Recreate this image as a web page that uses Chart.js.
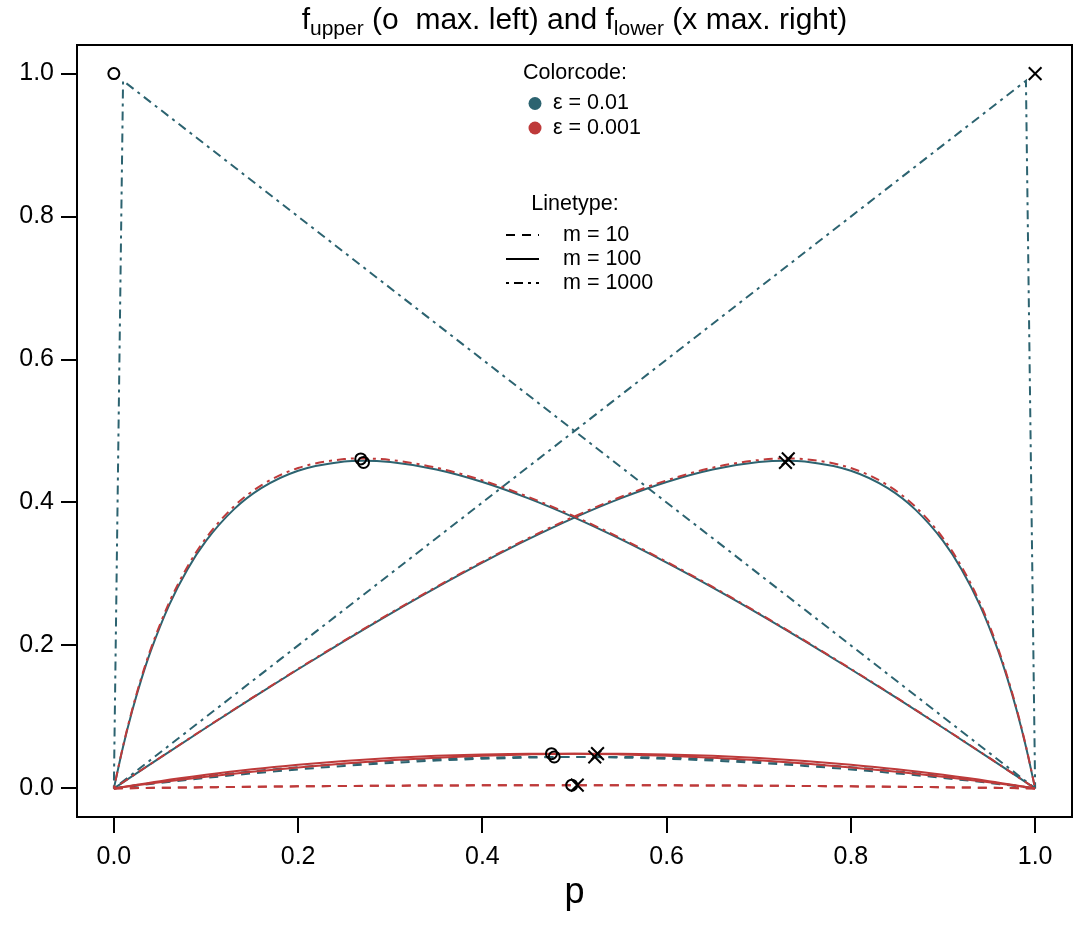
<!DOCTYPE html>
<html>
<head>
<meta charset="utf-8">
<script src="https://cdn.jsdelivr.net/npm/chart.js@4"></script>
<style>
html,body{margin:0;padding:0;background:#ffffff;}
#wrap{width:1080px;height:925px;}
</style>
</head>
<body>
<div id="wrap"><canvas id="c" width="1080" height="925"></canvas></div>
<script>
// ---------- data ----------
const xTickVals = [0, 0.2, 0.4, 0.6, 0.8, 1.0];
const xTickLabels = ['0.0', '0.2', '0.4', '0.6', '0.8', '1.0'];
const yTickVals = [0, 0.2, 0.4, 0.6, 0.8, 1.0];
const yTickLabels = ['0.0', '0.2', '0.4', '0.6', '0.8', '1.0'];

// m*eps = 1 curves (eps=0.01,m=100 solid teal ; eps=0.001,m=1000 dot-dash red)
const pUpperK1 = [0,0.01,0.02,0.03,0.04,0.06,0.08,0.1,0.13,0.16,0.2,0.25,0.27,0.3,0.35,0.4,0.45,0.5,0.55,0.6,0.65,0.7,0.75,0.8,0.85,0.9,0.95,0.98,1];
const pLowerK1 = [0,0.02,0.05,0.1,0.15,0.2,0.25,0.3,0.35,0.4,0.45,0.5,0.55,0.6,0.65,0.7,0.73,0.75,0.8,0.84,0.87,0.9,0.92,0.94,0.96,0.97,0.98,0.99,1];
const upperTealM100 = [0,0.0582,0.1089,0.1532,0.192,0.2564,0.3067,0.3462,0.39,0.42,0.4444,0.4573,0.4584,0.4565,0.4461,0.4286,0.4057,0.3788,0.3486,0.3158,0.2809,0.2442,0.206,0.1667,0.1262,0.0849,0.0428,0.0172,0];
const lowerTealM100 = [0,0.0172,0.0428,0.0849,0.1262,0.1667,0.206,0.2442,0.2809,0.3158,0.3486,0.3788,0.4057,0.4286,0.4461,0.4565,0.4584,0.4573,0.4444,0.42,0.39,0.3462,0.3067,0.2564,0.192,0.1532,0.1089,0.0582,0];
const upperRedM1000 = [0,0.0593,0.1107,0.1556,0.1949,0.2599,0.3105,0.3502,0.3941,0.424,0.4482,0.4607,0.4616,0.4595,0.4487,0.4309,0.4077,0.3805,0.3501,0.317,0.2819,0.245,0.2067,0.1672,0.1266,0.0851,0.0429,0.0172,0];
const lowerRedM1000 = [0,0.0172,0.0429,0.0851,0.1266,0.1672,0.2067,0.245,0.2819,0.317,0.3501,0.3805,0.4077,0.4309,0.4487,0.4595,0.4616,0.4607,0.4482,0.424,0.3941,0.3502,0.3105,0.2599,0.1949,0.1556,0.1107,0.0593,0];

// m*eps = 10 curve (eps=0.01, m=1000, dot-dash teal)
const pUpperK10 = [0, 0.01, 1];
const upperTealM1000 = [0, 0.99, 0];
const pLowerK10 = [0, 0.99, 1];
const lowerTealM1000 = [0, 0.99, 0];

// small curves (m*eps = 0.1 and 0.01)
const pGrid = [0,0.05,0.1,0.15,0.2,0.25,0.3,0.35,0.4,0.45,0.5,0.55,0.6,0.65,0.7,0.75,0.8,0.85,0.9,0.95,1];
const upperRedM100 = [0,0.0102,0.019,0.0267,0.0331,0.0384,0.0425,0.0456,0.0476,0.0486,0.0486,0.0476,0.0457,0.0429,0.0393,0.0347,0.0293,0.0232,0.0162,0.0085,0];
const lowerRedM100 = [0,0.0085,0.0162,0.0232,0.0293,0.0347,0.0393,0.0429,0.0457,0.0476,0.0486,0.0486,0.0476,0.0456,0.0425,0.0384,0.0331,0.0267,0.019,0.0102,0];
const upperTealM10 = [0,0.0091,0.0171,0.0239,0.0297,0.0345,0.0383,0.0411,0.0429,0.0439,0.0439,0.0431,0.0414,0.0389,0.0356,0.0315,0.0266,0.021,0.0147,0.0077,0];
const lowerTealM10 = [0,0.0077,0.0147,0.021,0.0266,0.0315,0.0356,0.0389,0.0414,0.0431,0.0439,0.0439,0.0429,0.0411,0.0383,0.0345,0.0297,0.0239,0.0171,0.0091,0];
const upperRedM10 = [0,0.00086,0.00162,0.0023,0.00288,0.00338,0.00378,0.0041,0.00432,0.00446,0.0045,0.00445,0.0043,0.00408,0.00376,0.00335,0.00286,0.00228,0.0016,0.00085,0];
const lowerRedM10 = [0,0.00085,0.0016,0.00228,0.00286,0.00335,0.00376,0.00408,0.0043,0.00445,0.0045,0.00446,0.00432,0.0041,0.00378,0.00338,0.00288,0.0023,0.00162,0.00086,0];

// maxima markers
const maxUpperP = [0, 0.268, 0.271, 0.475, 0.478, 0.497];
const maxUpperF = [1.0, 0.461, 0.456, 0.0486, 0.044, 0.0045];
const maxLowerP = [1, 0.732, 0.729, 0.525, 0.522, 0.503];
const maxLowerF = [1.0, 0.461, 0.456, 0.0486, 0.044, 0.0045];

// legend text
const colorLegendTitle = 'Colorcode:';
const colorLegendLabels = ['\u03B5 = 0.01', '\u03B5 = 0.001'];
const lineLegendTitle = 'Linetype:';
const lineLegendLabels = ['m = 10', 'm = 100', 'm = 1000'];
const xAxisTitle = 'p';

// ---------- styles ----------
const TEAL = '#2C6370';
const RED = '#BE3A3A';
const DASHED = [9, 7];
const SOLID = [];
const DOTDASH = [3, 5, 9, 5];
const FONT = '"Liberation Sans", Arial, Helvetica, sans-serif';

function pts(xs, ys) { return xs.map((x, i) => ({ x: x, y: ys[i] })); }

function lineDs(label, xs, ys, color, dash, order, straight) {
  return {
    label: label, type: 'line', data: pts(xs, ys),
    borderColor: color, backgroundColor: color, borderWidth: 2,
    borderDash: dash, borderCapStyle: 'butt',
    pointRadius: 0, pointHoverRadius: 0, fill: false,
    showLine: true, order: order,
    tension: 0,
    cubicInterpolationMode: straight ? 'default' : 'monotone'
  };
}

const datasets = [
  { label: 'max upper', type: 'scatter', data: pts(maxUpperP, maxUpperF), pointStyle: 'circle',
    pointRadius: 5.5, borderColor: '#000', backgroundColor: 'rgba(0,0,0,0)', borderWidth: 2, order: 0 },
  { label: 'max lower', type: 'scatter', data: pts(maxLowerP, maxLowerF), pointStyle: 'crossRot',
    pointRadius: 9, borderColor: '#000', backgroundColor: '#000', borderWidth: 2, order: 0 },
  lineDs('upper eps=0.001 m=10', pGrid, upperRedM10, RED, DASHED, 1),
  lineDs('lower eps=0.001 m=10', pGrid, lowerRedM10, RED, DASHED, 1),
  lineDs('upper eps=0.001 m=100', pGrid, upperRedM100, RED, SOLID, 1),
  lineDs('lower eps=0.001 m=100', pGrid, lowerRedM100, RED, SOLID, 1),
  lineDs('upper eps=0.001 m=1000', pUpperK1, upperRedM1000, RED, DOTDASH, 1),
  lineDs('lower eps=0.001 m=1000', pLowerK1, lowerRedM1000, RED, DOTDASH, 1),
  lineDs('upper eps=0.01 m=10', pGrid, upperTealM10, TEAL, DASHED, 2),
  lineDs('lower eps=0.01 m=10', pGrid, lowerTealM10, TEAL, DASHED, 2),
  lineDs('upper eps=0.01 m=100', pUpperK1, upperTealM100, TEAL, SOLID, 2),
  lineDs('lower eps=0.01 m=100', pLowerK1, lowerTealM100, TEAL, SOLID, 2),
  lineDs('upper eps=0.01 m=1000', pUpperK10, upperTealM1000, TEAL, DOTDASH, 2, true),
  lineDs('lower eps=0.01 m=1000', pLowerK10, lowerTealM1000, TEAL, DOTDASH, 2, true)
];

// ---------- custom drawing: box, title, legend, axis label ----------
const decorPlugin = {
  id: 'decor',
  afterDraw(chart) {
    const ctx = chart.ctx;
    const ca = chart.chartArea;
    ctx.save();
    // plot box
    ctx.strokeStyle = '#000';
    ctx.lineWidth = 2;
    ctx.setLineDash([]);
    ctx.strokeRect(ca.left, ca.top, ca.right - ca.left, ca.bottom - ca.top);

    // title with subscripts
    const mainSize = 30, subSize = 21;
    const segs = [
      ['f', false], ['upper', true], [' (o  max. left) and f', false], ['lower', true], [' (x max. right)', false]
    ];
    let total = 0;
    segs.forEach(s => {
      ctx.font = (s[1] ? subSize : mainSize) + 'px ' + FONT;
      s.w = ctx.measureText(s[0]).width;
      total += s.w;
    });
    let tx = (ca.left + ca.right) / 2 - total / 2;
    ctx.fillStyle = '#000';
    ctx.textAlign = 'left';
    ctx.textBaseline = 'alphabetic';
    segs.forEach(s => {
      ctx.font = (s[1] ? subSize : mainSize) + 'px ' + FONT;
      ctx.fillText(s[0], tx, s[1] ? 35 : 29);
      tx += s.w;
    });

    // x axis title
    ctx.font = '36px ' + FONT;
    ctx.textAlign = 'center';
    ctx.fillText(xAxisTitle, (ca.left + ca.right) / 2, 903);

    // legend: colour code
    const lf = '21.5px ' + FONT;
    ctx.font = lf;
    ctx.textBaseline = 'middle';
    ctx.textAlign = 'center';
    ctx.fillText(colorLegendTitle, 575, 73);
    const colRows = [103.5, 128];
    const cols = [TEAL, RED];
    colorLegendLabels.forEach((t, i) => {
      ctx.beginPath();
      ctx.fillStyle = cols[i];
      ctx.arc(535, colRows[i], 6.5, 0, Math.PI * 2);
      ctx.fill();
      ctx.fillStyle = '#000';
      ctx.textAlign = 'left';
      ctx.fillText(t, 553, colRows[i]);
    });

    // legend: line type
    ctx.textAlign = 'center';
    ctx.fillText(lineLegendTitle, 575, 204);
    const lineRows = [235, 259, 283];
    const dashes = [DASHED, SOLID, DOTDASH];
    lineLegendLabels.forEach((t, i) => {
      ctx.beginPath();
      ctx.strokeStyle = '#000';
      ctx.lineWidth = 2;
      ctx.setLineDash(dashes[i]);
      ctx.moveTo(506, lineRows[i]);
      ctx.lineTo(539, lineRows[i]);
      ctx.stroke();
      ctx.setLineDash([]);
      ctx.textAlign = 'left';
      ctx.fillText(t, 563, lineRows[i]);
    });
    ctx.restore();
  }
};

Chart.defaults.font.family = FONT;

new Chart(document.getElementById('c').getContext('2d'), {
  type: 'scatter',
  data: { datasets: datasets },
  options: {
    responsive: false,
    devicePixelRatio: 1,
    animation: false,
    events: [],
    layout: { autoPadding: false, padding: { left: 0, right: 8, top: 45, bottom: 0 } },
    plugins: { legend: { display: false }, title: { display: false }, tooltip: { enabled: false } },
    scales: {
      x: {
        type: 'linear', min: -0.04, max: 1.04,
        afterBuildTicks: s => { s.ticks = xTickVals.map(v => ({ value: v })); },
        afterFit: s => { s.height = 108; s.paddingLeft = 0; s.paddingRight = 0; },
        ticks: { callback: (v, i) => xTickLabels[i], font: { size: 25 }, color: '#000', padding: 9, maxRotation: 0, autoSkip: false },
        grid: { drawOnChartArea: false, drawTicks: true, tickLength: 16, color: '#000', lineWidth: 2 },
        border: { display: false }
      },
      y: {
        type: 'linear', min: -0.04, max: 1.04,
        afterBuildTicks: s => { s.ticks = yTickVals.map(v => ({ value: v })); },
        afterFit: s => { s.width = 77; s.paddingTop = 0; s.paddingBottom = 0; },
        ticks: { callback: (v, i) => yTickLabels[i], font: { size: 25 }, color: '#000', padding: 7, autoSkip: false },
        grid: { drawOnChartArea: false, drawTicks: true, tickLength: 16, color: '#000', lineWidth: 2 },
        border: { display: false }
      }
    }
  },
  plugins: [decorPlugin]
});
</script>
</body>
</html>
